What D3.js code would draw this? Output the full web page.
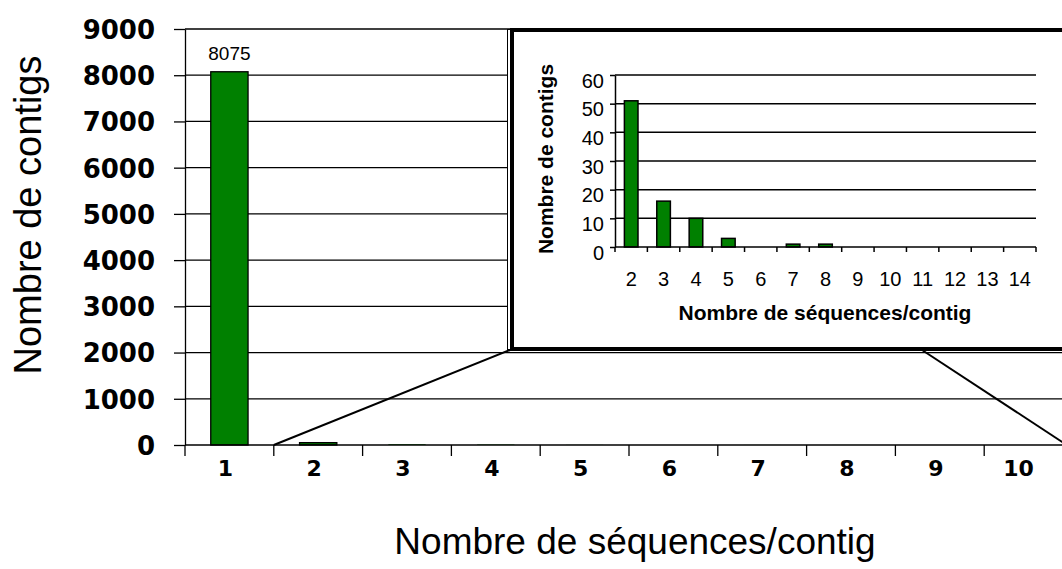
<!DOCTYPE html>
<html><head><meta charset="utf-8">
<script src="https://cdn.jsdelivr.net/npm/d3@7"></script>
<style>body{margin:0;background:#fff;overflow:hidden}svg{display:block}</style>
</head><body>
<svg id="chart" width="1062" height="569"></svg>
<script>
// ---- data ----
const mainCategories = [1, 2, 3, 4, 5, 6, 7, 8, 9, 10];
const mainValues = [8075, 51, 16, 10, 3, 0, 1, 1, 0, 0];
const mainYTicks = [0, 1000, 2000, 3000, 4000, 5000, 6000, 7000, 8000, 9000];
const insetCategories = [2, 3, 4, 5, 6, 7, 8, 9, 10, 11, 12, 13, 14];
const insetValues = [51, 16, 10, 3, 0, 1, 1, 0, 0, 0, 0, 0, 0];
const insetYTicks = [0, 10, 20, 30, 40, 50, 60];
const labeledCategories = [1];
const xTitle = "Nombre de séquences/contig";
const yTitle = "Nombre de contigs";

const svg = d3.select("#chart");
const W = 1062;
const green = "#008000";

// ---- main chart ----
const mx = d3.scaleBand().domain(mainCategories).range([185, 1073]).padding(0);
const my = d3.scaleLinear().domain([0, 9000]).range([445, 29]);
const mbw = mx.bandwidth();
const barFrac = 0.42;

const main = svg.append("g");
// gridlines
main.selectAll("line.grid").data(mainYTicks.filter(d => d > 0)).join("line")
  .attr("x1", 185).attr("x2", W).attr("y1", d => my(d)).attr("y2", d => my(d))
  .attr("stroke", "#000").attr("stroke-width", 1.3);
// bars
main.selectAll("rect.bar").data(mainCategories.map((c, i) => ({c, v: mainValues[i]}))).join("rect")
  .attr("x", d => mx(d.c) + mbw * (1 - barFrac) / 2).attr("width", mbw * barFrac)
  .attr("y", d => my(d.v)).attr("height", d => my(0) - my(d.v))
  .attr("fill", green).attr("stroke", d => (my(0) - my(d.v)) >= 1.5 ? "#000" : "none").attr("stroke-width", 1.3);
// y axis
const yAxis = d3.axisLeft(my).tickValues(mainYTicks).tickSize(11).tickSizeOuter(0).tickFormat(d3.format("d"));
const gy = main.append("g").attr("transform", "translate(185,0)").call(yAxis);
gy.select(".domain").attr("stroke", "#000").attr("stroke-width", 1.3);
gy.selectAll(".tick line").attr("stroke", "#000").attr("stroke-width", 1.3);
gy.selectAll(".tick text").attr("x", -30).attr("dy", "0.36em")
  .attr("font-family", "DejaVu Sans").attr("font-weight", "bold").attr("font-size", 26).attr("fill", "#000");
// x axis line and ticks at band boundaries
main.append("line").attr("x1", 185).attr("x2", W).attr("y1", my(0)).attr("y2", my(0))
  .attr("stroke", "#000").attr("stroke-width", 1.3);
main.selectAll("line.xt").data(mainCategories.concat([null])).join("line")
  .attr("x1", (d, i) => 185 + i * mbw).attr("x2", (d, i) => 185 + i * mbw)
  .attr("y1", my(0)).attr("y2", my(0) + 11).attr("stroke", "#000").attr("stroke-width", 1.3);
main.selectAll("text.xl").data(mainCategories).join("text")
  .attr("x", d => mx(d) + mbw / 2 - (d >= 10 ? 10 : 4)).attr("y", 476).attr("text-anchor", "middle")
  .attr("font-family", "DejaVu Sans").attr("font-weight", "bold").attr("font-size", 22).text(d => d);
// data label
main.selectAll("text.dl").data(labeledCategories).join("text")
  .attr("x", d => mx(d) + mbw / 2).attr("y", d => my(mainValues[mainCategories.indexOf(d)]) - 12)
  .attr("text-anchor", "middle").attr("font-family", "Liberation Sans").attr("font-size", 19)
  .text(d => mainValues[mainCategories.indexOf(d)]);
// titles
main.append("text").attr("transform", "translate(41,215) rotate(-90)").attr("text-anchor", "middle")
  .attr("font-family", "Liberation Sans").attr("font-size", 38).text(yTitle);
main.append("text").attr("x", 635).attr("y", 554).attr("text-anchor", "middle")
  .attr("font-family", "Liberation Sans").attr("font-size", 37).text(xTitle);

// ---- zoom connector lines ----
const boxL = 512, boxT = 30, boxB = 349;
svg.append("line").attr("x1", mx(2)).attr("y1", my(0)).attr("x2", boxL - 2).attr("y2", boxB + 1)
  .attr("stroke", "#000").attr("stroke-width", 2);
svg.append("line").attr("x1", 922).attr("y1", boxB + 1).attr("x2", mx(10) + mbw * 0.93).attr("y2", my(0))
  .attr("stroke", "#000").attr("stroke-width", 2);

// ---- inset box ----
svg.append("rect").attr("x", 507.5).attr("y", 29.5).attr("width", W - 507).attr("height", boxB - 29)
  .attr("fill", "#fff").attr("stroke", "#000").attr("stroke-width", 1);
svg.append("rect").attr("x", boxL).attr("y", boxT).attr("width", W + 10 - boxL).attr("height", boxB - boxT)
  .attr("fill", "#fff").attr("stroke", "#000").attr("stroke-width", 4);

// ---- inset chart ----
const ix = d3.scaleBand().domain(insetCategories).range([615, 1036]).padding(0);
const iy = d3.scaleLinear().domain([0, 60]).range([247, 75]);
const ibw = ix.bandwidth();
const inset = svg.append("g");
inset.selectAll("line.grid").data(insetYTicks.filter(d => d > 0)).join("line")
  .attr("x1", 615).attr("x2", 1036).attr("y1", d => iy(d)).attr("y2", d => iy(d))
  .attr("stroke", "#000").attr("stroke-width", 1.5);
inset.selectAll("rect.bar").data(insetCategories.map((c, i) => ({c, v: insetValues[i]}))).join("rect")
  .attr("x", d => ix(d.c) + ibw * (1 - barFrac) / 2).attr("width", ibw * barFrac)
  .attr("y", d => iy(d.v)).attr("height", d => iy(0) - iy(d.v))
  .attr("fill", green).attr("stroke", d => d.v > 0 ? "#000" : "none").attr("stroke-width", 1.5);
const iyAxis = d3.axisLeft(iy).tickValues(insetYTicks).tickSize(5).tickSizeOuter(0);
const giy = inset.append("g").attr("transform", "translate(615,0)").call(iyAxis);
giy.select(".domain").attr("stroke", "#000").attr("stroke-width", 1.5);
giy.selectAll(".tick line").attr("stroke", "#000").attr("stroke-width", 1.5);
giy.selectAll(".tick text").attr("x", -11).attr("dy", 12)
  .attr("font-family", "Liberation Sans").attr("font-size", 20).attr("fill", "#000");
inset.append("line").attr("x1", 615).attr("x2", 1036).attr("y1", iy(0)).attr("y2", iy(0))
  .attr("stroke", "#000").attr("stroke-width", 1.5);
inset.selectAll("line.xt").data(insetCategories.concat([null])).join("line")
  .attr("x1", (d, i) => 615 + i * ibw).attr("x2", (d, i) => 615 + i * ibw)
  .attr("y1", iy(0)).attr("y2", iy(0) + 5).attr("stroke", "#000").attr("stroke-width", 1.5);
inset.selectAll("text.xl").data(insetCategories).join("text")
  .attr("x", d => ix(d) + ibw / 2).attr("y", 286).attr("text-anchor", "middle")
  .attr("font-family", "Liberation Sans").attr("font-size", 20).text(d => d);
inset.append("text").attr("transform", "translate(553,159) rotate(-90)").attr("text-anchor", "middle")
  .attr("font-family", "Liberation Sans").attr("font-weight", "bold").attr("font-size", 21).text(yTitle);
inset.append("text").attr("x", 825).attr("y", 320).attr("text-anchor", "middle")
  .attr("font-family", "Liberation Sans").attr("font-weight", "bold").attr("font-size", 21).text(xTitle);
</script>
</body></html>
